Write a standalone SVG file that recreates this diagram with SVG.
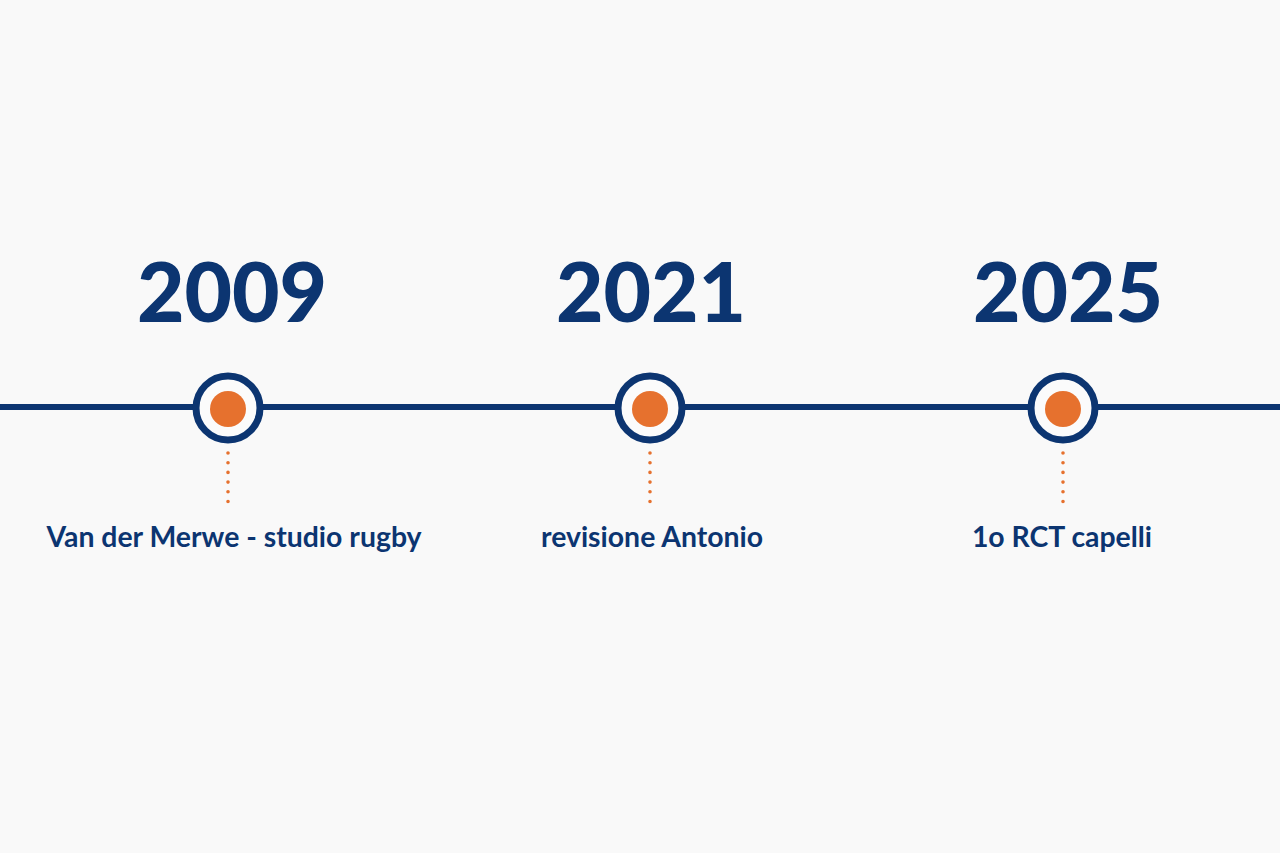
<svg xmlns="http://www.w3.org/2000/svg" width="1280" height="853" viewBox="0 0 1280 853">
<style>
.year{font-family:Lato,"Open Sans",sans-serif;font-weight:900;font-size:82px;fill:#0c3571;text-anchor:middle}
.lbl{font-family:Lato,"Open Sans",sans-serif;font-weight:700;font-size:28.4px;fill:#0c3571;text-anchor:middle}
.ring{fill:#fbfbfb;stroke:#0c3571;stroke-width:7}
.dot{fill:#e6712e}
.lead{stroke:#e6712e;stroke-width:3.6;stroke-linecap:round;stroke-dasharray:0 9.7;fill:none}
</style>
<rect width="1280" height="853" fill="#f9f9f9"/>
<g id="connectors">
<line x1="0" y1="407" x2="1280" y2="407" stroke="#0c3571" stroke-width="6"/>
<line class="lead" x1="228" y1="453" x2="228" y2="502"/>
<line class="lead" x1="650" y1="453" x2="650" y2="502"/>
<line class="lead" x1="1063" y1="453" x2="1063" y2="502"/>
</g>
<g id="node-2009">
<text class="year" x="232" y="322">2009</text>
<circle class="ring" cx="228" cy="408" r="32"/>
<circle class="dot" cx="228" cy="409" r="18"/>
<text class="lbl" x="234" y="547">Van der Merwe - studio rugby</text>
</g>
<g id="node-2021">
<text class="year" x="651" y="322">2021</text>
<circle class="ring" cx="650" cy="408" r="32"/>
<circle class="dot" cx="650" cy="409" r="18"/>
<text class="lbl" x="652" y="547">revisione Antonio</text>
</g>
<g id="node-2025">
<text class="year" x="1068" y="322">2025</text>
<circle class="ring" cx="1063" cy="408" r="32"/>
<circle class="dot" cx="1063" cy="409" r="18"/>
<text class="lbl" x="1062" y="547">1o RCT capelli</text>
</g>
</svg>
